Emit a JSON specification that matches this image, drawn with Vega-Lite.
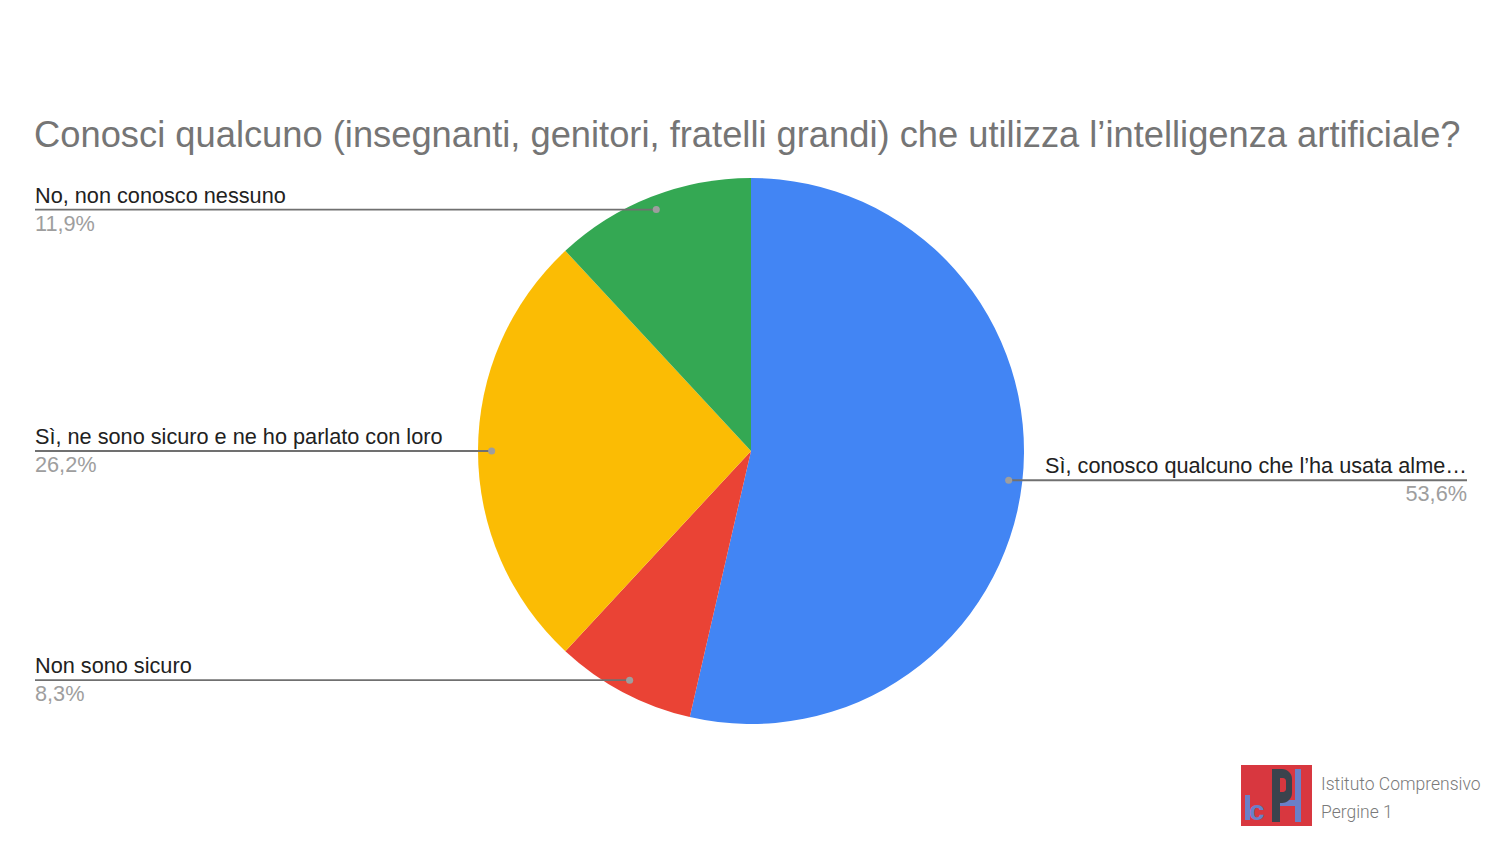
{
  "$schema": "https://vega.github.io/schema/vega-lite/v6.json",
  "autosize": {"type": "none"},
  "padding": {"left": 35, "top": 178, "right": 33, "bottom": 120},
  "width": 1432,
  "height": 546,
  "background": "white",
  "title": {
    "text": "Conosci qualcuno (insegnanti, genitori, fratelli grandi) che utilizza l’intelligenza artificiale?",
    "anchor": "start",
    "font": "Liberation Sans",
    "fontSize": 36.3,
    "fontWeight": "normal",
    "color": "#757575",
    "baseline": "alphabetic",
    "offset": -5
  },
  "config": {"view": {"stroke": null}},
  "data": {
    "values": [
      {"label": "Sì, conosco qualcuno che l’ha usata alme…", "pct": 53.6},
      {"label": "Non sono sicuro", "pct": 8.3},
      {"label": "Sì, ne sono sicuro e ne ho parlato con loro", "pct": 26.2},
      {"label": "No, non conosco nessuno", "pct": 11.9}
    ]
  },
  "transform": [
    {"window": [{"op": "row_number", "as": "idx"}, {"op": "sum", "field": "pct", "as": "cum"}], "frame": [null, 0]},
    {"calculate": "(datum.cum - datum.pct / 2) / 100 * 2 * PI", "as": "ang"},
    {"calculate": "0.95 * sin(datum.ang)", "as": "dx"},
    {"calculate": "0.95 * cos(datum.ang)", "as": "dy"},
    {"calculate": "datum.dx > 0 ? 2.6227 : -2.6227", "as": "edge"},
    {"calculate": "replace(format(datum.pct, '.1f'), '.', ',') + '%'", "as": "pctLabel"}
  ],
  "layer": [
    {
      "mark": {"type": "arc"},
      "encoding": {
        "theta": {"field": "pct", "type": "quantitative", "stack": true},
        "order": {"field": "idx", "type": "quantitative"},
        "color": {
          "field": "label",
          "type": "nominal",
          "legend": null,
          "scale": {
            "domain": ["Sì, conosco qualcuno che l’ha usata alme…", "Non sono sicuro", "Sì, ne sono sicuro e ne ho parlato con loro", "No, non conosco nessuno"],
            "range": ["#4285F4", "#EA4335", "#FBBC04", "#34A853"]
          }
        }
      }
    },
    {
      "mark": {"type": "rule", "color": "#707070", "strokeWidth": 1.8},
      "encoding": {
        "x": {"field": "dx", "type": "quantitative", "scale": {"domain": [-2.6227, 2.6227], "nice": false, "zero": false}, "axis": null},
        "x2": {"field": "edge"},
        "y": {"field": "dy", "type": "quantitative", "scale": {"domain": [-1, 1], "nice": false, "zero": false}, "axis": null}
      }
    },
    {
      "mark": {"type": "point", "filled": true, "size": 50, "color": "#9e9e9e", "opacity": 1},
      "encoding": {
        "x": {"field": "dx", "type": "quantitative"},
        "y": {"field": "dy", "type": "quantitative"}
      }
    },
    {
      "transform": [{"filter": "datum.dx < 0"}],
      "mark": {"type": "text", "align": "left", "baseline": "alphabetic", "dy": -7, "font": "Liberation Sans", "fontSize": 21.7, "color": "#212121"},
      "encoding": {
        "x": {"field": "edge", "type": "quantitative"},
        "y": {"field": "dy", "type": "quantitative"},
        "text": {"field": "label"}
      }
    },
    {
      "transform": [{"filter": "datum.dx < 0"}],
      "mark": {"type": "text", "align": "left", "baseline": "top", "dy": 4, "font": "Liberation Sans", "fontSize": 21.7, "color": "#9e9e9e"},
      "encoding": {
        "x": {"field": "edge", "type": "quantitative"},
        "y": {"field": "dy", "type": "quantitative"},
        "text": {"field": "pctLabel"}
      }
    },
    {
      "transform": [{"filter": "datum.dx > 0"}],
      "mark": {"type": "text", "align": "right", "baseline": "alphabetic", "dy": -7, "font": "Liberation Sans", "fontSize": 21.7, "color": "#212121"},
      "encoding": {
        "x": {"field": "edge", "type": "quantitative"},
        "y": {"field": "dy", "type": "quantitative"},
        "text": {"field": "label"}
      }
    },
    {
      "transform": [{"filter": "datum.dx > 0"}],
      "mark": {"type": "text", "align": "right", "baseline": "top", "dy": 4, "font": "Liberation Sans", "fontSize": 21.7, "color": "#9e9e9e"},
      "encoding": {
        "x": {"field": "edge", "type": "quantitative"},
        "y": {"field": "dy", "type": "quantitative"},
        "text": {"field": "pctLabel"}
      }
    },
    {
      "data": {"values": [{}]},
      "mark": {"type": "rect", "color": "#d8373f"},
      "encoding": {
        "x": {"datum": 1.7949, "type": "quantitative"},
        "x2": {"datum": 2.0549},
        "y": {"datum": -1.1502, "type": "quantitative"},
        "y2": {"datum": -1.3736}
      }
    },
    {
      "data": {"values": [{}]},
      "mark": {"type": "rect", "color": "#6a80c8"},
      "encoding": {
        "x": {"datum": 1.8095, "type": "quantitative"},
        "x2": {"datum": 1.8278},
        "y": {"datum": -1.2601, "type": "quantitative"},
        "y2": {"datum": -1.3516}
      }
    },
    {
      "data": {"values": [{}]},
      "mark": {"type": "text", "align": "left", "baseline": "alphabetic", "font": "Liberation Sans", "fontWeight": "bold", "fontSize": 28, "color": "#6a80c8"},
      "encoding": {
        "x": {"datum": 1.824, "type": "quantitative"},
        "y": {"datum": -1.3516, "type": "quantitative"},
        "text": {"value": "c"}
      }
    },
    {
      "data": {"values": [{}]},
      "mark": {"type": "rect", "color": "#6a80c8"},
      "encoding": {
        "x": {"datum": 1.9377, "type": "quantitative"},
        "x2": {"datum": 1.9927},
        "y": {"datum": -1.2784, "type": "quantitative"},
        "y2": {"datum": -1.3004}
      }
    },
    {
      "data": {"values": [{}]},
      "mark": {"type": "rect", "color": "#6a80c8"},
      "encoding": {
        "x": {"datum": 1.9927, "type": "quantitative"},
        "x2": {"datum": 2.0147},
        "y": {"datum": -1.1648, "type": "quantitative"},
        "y2": {"datum": -1.359}
      }
    },
    {
      "data": {"values": [{}]},
      "mark": {"type": "rect", "color": "#3b434d", "cornerRadiusTopRight": 12, "cornerRadiusBottomRight": 12},
      "encoding": {
        "x": {"datum": 1.9084, "type": "quantitative"},
        "x2": {"datum": 1.9817},
        "y": {"datum": -1.1648, "type": "quantitative"},
        "y2": {"datum": -1.2894}
      }
    },
    {
      "data": {"values": [{}]},
      "mark": {"type": "rect", "color": "#3b434d"},
      "encoding": {
        "x": {"datum": 1.9084, "type": "quantitative"},
        "x2": {"datum": 1.9377},
        "y": {"datum": -1.1648, "type": "quantitative"},
        "y2": {"datum": -1.359}
      }
    },
    {
      "data": {"values": [{}]},
      "mark": {"type": "rect", "color": "#d8373f", "cornerRadiusTopRight": 4, "cornerRadiusBottomRight": 4},
      "encoding": {
        "x": {"datum": 1.9377, "type": "quantitative"},
        "x2": {"datum": 1.9597},
        "y": {"datum": -1.1978, "type": "quantitative"},
        "y2": {"datum": -1.2491}
      }
    },
    {
      "data": {"values": [{}]},
      "mark": {"type": "text", "align": "left", "baseline": "alphabetic", "font": "Roboto", "fontWeight": 300, "fontSize": 17.5, "color": "#7a7a7a"},
      "encoding": {
        "x": {"datum": 2.0879, "type": "quantitative"},
        "y": {"datum": -1.2418, "type": "quantitative"},
        "text": {"value": "Istituto Comprensivo"}
      }
    },
    {
      "data": {"values": [{}]},
      "mark": {"type": "text", "align": "left", "baseline": "alphabetic", "font": "Roboto", "fontWeight": 300, "fontSize": 17.5, "color": "#7a7a7a"},
      "encoding": {
        "x": {"datum": 2.0879, "type": "quantitative"},
        "y": {"datum": -1.3443, "type": "quantitative"},
        "text": {"value": "Pergine 1"}
      }
    }
  ]
}
